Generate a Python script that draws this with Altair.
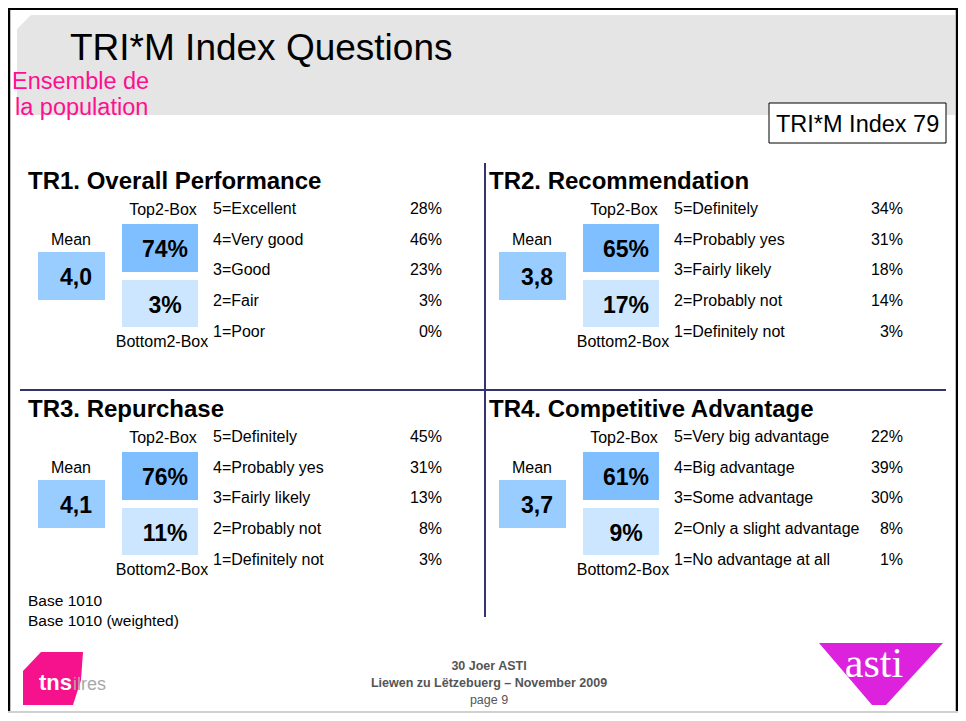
import altair as alt
import pandas as pd

# ---------------- data ----------------
slide_title = "TRI*M Index Questions"
population_lines = ["Ensemble de", "la population"]
trim_index = 79
panel_titles = ["TR1. Overall Performance", "TR2. Recommendation",
                "TR3. Repurchase", "TR4. Competitive Advantage"]
mean_scores = [4.0, 3.8, 4.1, 3.7]
top2_box = [74, 65, 76, 61]
bottom2_box = [3, 17, 11, 9]
labels_tr1 = ["5=Excellent", "4=Very good", "3=Good", "2=Fair", "1=Poor"]
labels_tr2 = ["5=Definitely", "4=Probably yes", "3=Fairly likely", "2=Probably not", "1=Definitely not"]
labels_tr3 = ["5=Definitely", "4=Probably yes", "3=Fairly likely", "2=Probably not", "1=Definitely not"]
labels_tr4 = ["5=Very big advantage", "4=Big advantage", "3=Some advantage",
              "2=Only a slight advantage", "1=No advantage at all"]
shares_tr1 = [28, 46, 23, 3, 0]
shares_tr2 = [34, 31, 18, 14, 3]
shares_tr3 = [45, 31, 13, 8, 3]
shares_tr4 = [22, 39, 30, 8, 1]
box_captions = ["Mean", "Top2-Box", "Bottom2-Box"]
base_lines = ["Base 1010", "Base 1010 (weighted)"]
footer_lines = ["30 Joer ASTI", "Liewen zu Lëtzebuerg – November 2009", "page 9"]
logo_tns = ["tns", "ilres"]
logo_asti = "asti"

answer_labels = [labels_tr1, labels_tr2, labels_tr3, labels_tr4]
answer_shares = [shares_tr1, shares_tr2, shares_tr3, shares_tr4]

# ---------------- layout & style ----------------
W, H = 950, 705
OX, OY = 8, 8
FONT = "Liberation Sans"
PANEL_OFFSETS = [(0, 0), (461, 0), (0, 228), (461, 228)]
ROW0, ROW_STEP = 214, 30.7
MEAN_FILL, TOP_FILL, BOTTOM_FILL = "#99CCFF", "#80BFFF", "#CCE6FF"
PINK = "#FF0F8F"
NAVY = "#333370"

xs = alt.Scale(domain=[OX, OX + W], range=[0, W], nice=False, zero=False)
ys = alt.Scale(domain=[OY, OY + H], range=[0, H], nice=False, zero=False)

texts = []


def add_text(x, y, text, size=16, color="black", align="left", weight="normal", font=FONT):
    texts.append(dict(x=x, y=y, text=text, size=size, color=color,
                      align=align, weight=weight, font=font))


rects = []
for i, (dx, dy) in enumerate(PANEL_OFFSETS):
    add_text(28 + dx, 189 + dy, panel_titles[i], size=24, weight="bold")
    add_text(163 + dx, 215 + dy, box_captions[1], align="center")
    add_text(71 + dx, 245 + dy, box_captions[0], align="center")
    add_text(162 + dx, 347 + dy, box_captions[2], align="center")
    rects.append(dict(x=38 + dx, x2=105 + dx, y=252 + dy, y2=300 + dy, fill=MEAN_FILL))
    rects.append(dict(x=122 + dx, x2=198 + dx, y=224 + dy, y2=272 + dy, fill=TOP_FILL))
    rects.append(dict(x=122 + dx, x2=198 + dx, y=280 + dy, y2=327 + dy, fill=BOTTOM_FILL))
    add_text(76 + dx, 285 + dy, f"{mean_scores[i]:.1f}".replace(".", ","), size=23,
             align="center", weight="bold")
    add_text(165 + dx, 257 + dy, f"{top2_box[i]}%", size=23, align="center", weight="bold")
    add_text(165 + dx, 313 + dy, f"{bottom2_box[i]}%", size=23, align="center", weight="bold")
    for r, (lab, val) in enumerate(zip(answer_labels[i], answer_shares[i])):
        yy = ROW0 + r * ROW_STEP + dy
        add_text(213 + dx, yy, lab)
        add_text(442 + dx, yy, f"{val}%", align="right")

# header texts
add_text(70, 60, slide_title, size=37)
add_text(12, 89, population_lines[0], size=23.5, color=PINK)
add_text(15, 115, population_lines[1], size=23.5, color=PINK)
add_text(776, 132, f"TRI*M Index {trim_index}", size=23.5)
# base
add_text(28, 606, base_lines[0], size=15.5)
add_text(28, 626, base_lines[1], size=15.5)
# footer
add_text(489, 670, footer_lines[0], size=12.5, color="#555555", align="center", weight="bold")
add_text(489, 687, footer_lines[1], size=12.5, color="#555555", align="center", weight="bold")
add_text(489, 704, footer_lines[2], size=12.5, color="#555555", align="center")
# logos text
add_text(39, 690, logo_tns[0], size=22, color="white", weight="bold")
add_text(73, 690, logo_tns[1], size=18, color="#A8A8A8")
add_text(874, 677, logo_asti, size=42, color="white", align="center", font="Liberation Serif")

text_df = pd.DataFrame(texts)
rect_df = pd.DataFrame(rects)

rules = pd.DataFrame([
    dict(x=485, x2=485, y=163, y2=617, c=NAVY, w=2),
    dict(x=20, x2=946, y=390, y2=390, c=NAVY, w=2),
    # slide frame
    dict(x=9, x2=9, y=8, y2=713, c="black", w=2.5),
    dict(x=957, x2=957, y=8, y2=713, c="black", w=2.5),
    dict(x=8, x2=958, y=9, y2=9, c="black", w=2),
    dict(x=8, x2=958, y=712, y2=712, c="#D0D0D0", w=2),
])


def polygon_layer(points, color):
    xs_ = [p[0] for p in points]
    ys_ = [p[1] for p in points]
    cx = (min(xs_) + max(xs_)) / 2
    cy = (min(ys_) + max(ys_)) / 2
    half = max(max(xs_) - min(xs_), max(ys_) - min(ys_)) / 2
    path = "M" + " L".join(f"{(px - cx) / half:.4f},{(py - cy) / half:.4f}" for px, py in points) + " Z"
    df = pd.DataFrame([dict(x=cx, y=cy)])
    return alt.Chart(df).mark_point(shape=path, size=(2 * half) ** 2, filled=True,
                                    opacity=1, strokeWidth=0, color=color).encode(
        x=alt.X("x:Q", scale=xs, axis=None), y=alt.Y("y:Q", scale=ys, axis=None))


header_band = polygon_layer([(17, 29), (31, 15), (955, 15), (955, 115), (17, 115)], "#E5E5E5")
tns_shape = polygon_layer([(23, 671), (41, 652), (83, 652), (81, 680), (73, 705), (23, 705)], "#F5128C")
asti_shape = polygon_layer([(819, 643), (943, 643), (886, 705), (872, 705)], "#DD22DD")

rect_layer = alt.Chart(rect_df).mark_rect().encode(
    x=alt.X("x:Q", scale=xs, axis=None), x2="x2:Q",
    y=alt.Y("y:Q", scale=ys, axis=None), y2="y2:Q",
    color=alt.Color("fill:N", scale=None, legend=None))

index_box = alt.Chart(pd.DataFrame([dict(x=769, x2=946, y=103, y2=143)])).mark_rect(
    fill="white", stroke="black", strokeWidth=1).encode(
    x=alt.X("x:Q", scale=xs, axis=None), x2="x2:Q",
    y=alt.Y("y:Q", scale=ys, axis=None), y2="y2:Q")

rule_layer = alt.Chart(rules).mark_rule().encode(
    x=alt.X("x:Q", scale=xs, axis=None), x2="x2:Q",
    y=alt.Y("y:Q", scale=ys, axis=None), y2="y2:Q",
    color=alt.Color("c:N", scale=None, legend=None),
    strokeWidth=alt.StrokeWidth("w:Q", scale=None, legend=None))

text_layers = []
for (align, weight, font), g in text_df.groupby(["align", "weight", "font"]):
    text_layers.append(
        alt.Chart(g.reset_index(drop=True)).mark_text(
            align=align, baseline="alphabetic", fontWeight=weight, font=font).encode(
            x=alt.X("x:Q", scale=xs, axis=None),
            y=alt.Y("y:Q", scale=ys, axis=None),
            text="text:N",
            size=alt.Size("size:Q", scale=None, legend=None),
            color=alt.Color("color:N", scale=None, legend=None)))

chart = alt.layer(header_band, index_box, rect_layer, rule_layer, tns_shape, asti_shape,
                  *text_layers).properties(
    width=W, height=H, padding=0, background="white",
    autosize=alt.AutoSizeParams(type="none")).configure_view(strokeWidth=0)

chart.save("out.html", embed_options={"renderer": "svg", "actions": False})
